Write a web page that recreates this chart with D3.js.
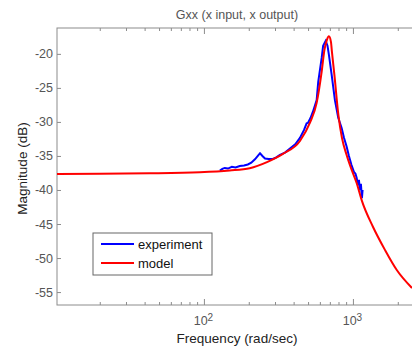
<!DOCTYPE html>
<html>
<head>
<meta charset="utf-8">
<script src="https://cdn.jsdelivr.net/npm/d3@7"></script>
<style>
  body { margin: 0; background: #fff; }
  svg { display: block; font-family: "Liberation Sans", Arial, sans-serif; }
</style>
</head>
<body>
<div id="chart-area"></div>
<script>
// model curve (rad/sec, dB)
var modelFreq = [10.3, 20, 43.4, 94, 149, 203, 265, 339, 441, 514, 571, 617, 644, 669, 690,
                 712, 723, 751, 799, 844, 907, 970, 1059, 1149, 1362, 1640, 1974, 2490];
var modelDb = [-37.65, -37.6, -37.55, -37.4, -37.14, -36.8, -35.9, -34.7, -32.8, -30.15, -27.2, -22.6, -19.4, -17.94, -17.43,
               -18.24, -19.7, -23.1, -29.0, -32.35, -34.85, -36.76, -38.97, -41.6, -45.4, -48.8, -51.8, -54.4];

// experiment (measured) curve
var expFreq = [128, 133, 138, 145, 154, 163, 174, 186, 197, 208, 220, 230, 238, 247, 257, 272, 290, 306, 324,
               350, 378, 410, 441, 469, 489, 499, 520, 539, 571, 585, 617, 631, 656, 675, 690, 720, 757, 797, 840,
               870, 907, 940, 977, 1015, 1040, 1059, 1081, 1097, 1115, 1131, 1149, 1161];
var expDb = [-37.16, -36.9, -36.76, -36.85, -36.6, -36.7, -36.47, -36.4, -36.25, -36.0, -35.5, -35.0, -34.6, -35.0, -35.37, -35.45, -35.44, -35.2, -34.85,
             -34.5, -33.9, -33.3, -32.35, -31.2, -30.2, -30.15, -29.4, -28.5, -26.8, -24.1, -20.6, -18.8, -18.1, -18.8, -20.15, -23.1, -26.8, -29.4, -30.9,
             -32.3, -33.6, -35.0, -36.3, -37.35, -37.6, -38.2, -39.3, -38.5, -40.0, -39.1, -41.2, -40.0];

var xTicksMajor = [100, 1000];
var xTicksMinor = [20, 30, 40, 50, 60, 70, 80, 90, 200, 300, 400, 500, 600, 700, 800, 900, 2000];
var yTicks = [-55, -50, -45, -40, -35, -30, -25, -20];

var seriesNames = ["experiment", "model"];
var seriesColors = ["#0000ff", "#ff0000"];

var W = 412, H = 351;
var pLeft = 57, pRight = 413, pTop = 28, pBottom = 305;
var axisColor = "#8c8c8c";
var labelColor = "#555";

var svg = d3.select("#chart-area").append("svg")
    .attr("width", W).attr("height", H);

var x = d3.scaleLog().domain([10.33, 2530]).range([pLeft, pRight]);
var y = d3.scaleLinear().domain([-56.9, -16.2]).range([pBottom, pTop]);

// clip for the plotted lines
svg.append("clipPath").attr("id", "clip")
    .append("rect").attr("x", pLeft).attr("y", pTop)
    .attr("width", pRight - pLeft).attr("height", pBottom - pTop);

// axes box
svg.append("rect")
    .attr("x", pLeft).attr("y", pTop)
    .attr("width", pRight - pLeft).attr("height", pBottom - pTop)
    .attr("fill", "none").attr("stroke", axisColor).attr("stroke-width", 1);

function styleAxis(g) {
    g.select(".domain").remove();
    g.selectAll(".tick line").attr("stroke", axisColor);
    g.selectAll(".tick text").attr("fill", labelColor).attr("font-size", "12.5px");
}

// bottom ticks (inward)
svg.append("g").attr("transform", "translate(0," + pBottom + ")")
    .call(d3.axisBottom(x).tickValues(xTicksMinor).tickSize(-3).tickFormat(""))
    .call(styleAxis);
var xMajor = svg.append("g").attr("transform", "translate(0," + pBottom + ")")
    .call(d3.axisBottom(x).tickValues(xTicksMajor).tickSize(-6).tickPadding(10)
        .tickFormat(function(d){ return ""; }))
    .call(styleAxis);
xMajor.selectAll(".tick text").each(function(d) {
    var t = d3.select(this);
    t.append("tspan").text("10");
    t.append("tspan").attr("dy", "-0.45em").attr("font-size", "10px")
        .text(Math.round(Math.log10(d)));
}).attr("dy", "0.8em").attr("x", -1);

// top ticks
svg.append("g").attr("transform", "translate(0," + pTop + ")")
    .call(d3.axisTop(x).tickValues(xTicksMinor).tickSize(-3).tickFormat(""))
    .call(styleAxis);
svg.append("g").attr("transform", "translate(0," + pTop + ")")
    .call(d3.axisTop(x).tickValues(xTicksMajor).tickSize(-6).tickFormat(""))
    .call(styleAxis);

// left ticks
svg.append("g").attr("transform", "translate(" + pLeft + ",0)")
    .call(d3.axisLeft(y).tickValues(yTicks).tickSize(-4).tickPadding(4)
        .tickFormat(function(d){ return d; }))
    .call(styleAxis);

// lines
var line = d3.line()
    .x(function(d){ return x(d[0]); })
    .y(function(d){ return y(d[1]); });

var expData = d3.zip(expFreq, expDb);
var modelData = d3.zip(modelFreq, modelDb);

var plot = svg.append("g").attr("clip-path", "url(#clip)");
plot.append("path").datum(expData)
    .attr("d", line.curve(d3.curveLinear))
    .attr("fill", "none").attr("stroke", seriesColors[0]).attr("stroke-width", 2);
plot.append("path").datum(modelData)
    .attr("d", line.curve(d3.curveMonotoneX))
    .attr("fill", "none").attr("stroke", seriesColors[1]).attr("stroke-width", 2);

// title and axis labels
svg.append("text")
    .attr("x", 237).attr("y", 19)
    .attr("text-anchor", "middle").attr("font-size", "12.5px")
    .attr("fill", labelColor)
    .text("Gxx (x input, x output)");

svg.append("text")
    .attr("x", 237).attr("y", 343)
    .attr("text-anchor", "middle").attr("font-size", "13.5px")
    .attr("fill", "#222")
    .text("Frequency (rad/sec)");

svg.append("text")
    .attr("transform", "translate(27," + ((pTop + pBottom) / 2 + 2) + ") rotate(-90)")
    .attr("text-anchor", "middle").attr("font-size", "13.5px")
    .attr("fill", "#222")
    .text("Magnitude (dB)");

// legend
var lg = svg.append("g").attr("transform", "translate(93,233)");
lg.append("rect").attr("width", 119).attr("height", 42)
    .attr("fill", "#fff").attr("stroke", "#666").attr("stroke-width", 1);
seriesNames.forEach(function(name, i) {
    var yy = 11 + i * 19;
    lg.append("line").attr("x1", 8).attr("x2", 41).attr("y1", yy).attr("y2", yy)
        .attr("stroke", seriesColors[i]).attr("stroke-width", 2);
    lg.append("text").attr("x", 45).attr("y", yy + 4.5)
        .attr("font-size", "13px").attr("fill", "#111")
        .text(name);
});
</script>
</body>
</html>
